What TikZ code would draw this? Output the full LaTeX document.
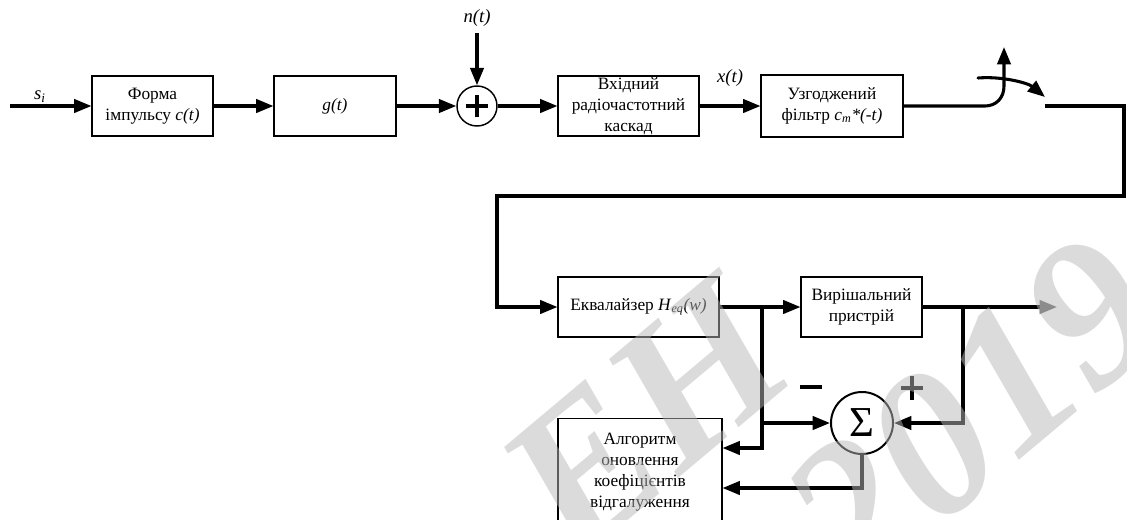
\documentclass[tikz,border=0pt]{standalone}
\usepackage{fontspec}
\setmainfont{Liberation Serif}
\usetikzlibrary{arrows.meta}
\begin{document}
\begin{tikzpicture}[x=0.75pt,y=-0.75pt,
  blk/.style={draw,line width=0.8pt,inner sep=0pt,align=center,
    font=\fontsize{13}{15.75}\selectfont},
  conn/.style={line width=2.3pt,-{Triangle[length=13pt,width=10pt]}},
  lbl/.style={font=\fontsize{14}{16}\selectfont\itshape,inner sep=0pt},
  wmark/.style={font=\fontsize{155}{155}\selectfont\bfseries\itshape,
    text=wmgray,opacity=0.5,rotate=40,inner sep=0pt}]
\definecolor{wmgray}{RGB}{184,184,184}
\useasboundingbox (0,0) rectangle (1127,519);

% forward path
\node[blk,minimum width=90.75pt,minimum height=45pt] (b1) at (152.5,106)
  {Форма\\імпульсу \textit{c(t)}};
\node[blk,minimum width=91.5pt,minimum height=45pt] (b2) at (335,106)
  {\textit{g(t)}};
\node[draw,circle,line width=1.1pt,minimum size=30pt,inner sep=0pt] (add) at (477,106) {};
\node[blk,minimum width=105.75pt,minimum height=45pt] (b3) at (628.5,106)
  {Вхідний\\радіочастотний\\каскад};
\node[blk,minimum width=106.5pt,minimum height=46.5pt] (b4) at (832,106)
  {Узгоджений\\фільтр \textit{c}\textsubscript{\textit{m}}\textit{*(-t)}};

% equaliser section
\node[blk,minimum width=120.75pt,minimum height=45pt] (eq) at (638.5,307)
  {Еквалайзер \textit{H}\textsubscript{\textit{eq}}\textit{(w)}};
\node[blk,minimum width=90.75pt,minimum height=45pt] (dec) at (861.5,307)
  {Вирішальний\\пристрій};
\node[draw,circle,line width=1.5pt,minimum size=46.5pt,inner sep=0pt,
  font=\fontsize{32}{32}\selectfont] (sum) at (862,423) {Σ};
\node[blk,minimum width=123pt,minimum height=81pt,anchor=north] (alg) at (640,418)
  {Алгоритм\\оновлення\\коефіцієнтів\\відгалуження};

% labels
\node[lbl] (lsi) at (40,97) {s\textsubscript{\textit{i}}};
\node[lbl] (lnt) at (477,18) {n(t)};
\node[lbl] (lxt) at (730,78) {x(t)};

% free ends and junctions
\coordinate (sin) at (10,106);
\coordinate (ntop) at (477,33);
\coordinate (hop) at (985,106);
\coordinate (up) at (1004,86);
\coordinate (uptip) at (1004,47);
\coordinate (swa) at (978,78);
\coordinate (swb) at (1045,97);
\coordinate (swo) at (1045,106);
\coordinate (rc) at (1124,106);
\coordinate (rd) at (1124,196);
\coordinate (ld) at (497,196);
\coordinate (j1) at (762,307);
\coordinate (j1b) at (762,448);
\coordinate (j2) at (963,307);
\coordinate (outp) at (1057,307);
\coordinate (sb) at (862,488);

% connectors
\draw[conn] (sin) -- (b1.west);
\draw[conn] (b1.east) -- (b2.west);
\draw[conn] (b2.east) -- (add.west);
\draw[conn] (ntop) -- (add.north);
\draw[conn] (add.east) -- (b3.west);
\draw[conn] (b3.east) -- (b4.west);
\draw[conn,line cap=round] (b4.east) -- (hop) .. controls (996,106) and (1004,98) .. (up) -- (uptip);
\draw[conn,line cap=round] (swa) .. controls (1002,76) and (1028,83) .. (swb);
\draw[conn] (swo) -- (rc) -- (rd) -- (ld) -- (ld |- eq.west) -- (eq.west);
\draw[conn] (eq.east) -- (dec.west);
\draw[line width=2.3pt,-{Triangle[length=13pt,width=10pt,color=black!62]}] (dec.east) -- (outp);
\draw[conn] (j1) -- (j1b) -- (j1b -| alg.east);
\draw[conn] (j1 |- sum.west) -- (sum.west);
\draw[conn] (j2) -- (j2 |- sum.east) -- (sum.east);
\draw[conn] (sum.south) -- (sb) -- (sb -| alg.east);

% signs at the summer inputs
\draw[line width=2.4pt] (800,387) -- (822,387);
\draw[line width=2.4pt] (901,388) -- (923,388) (912,376) -- (912,400);
% plus inside the adder
\draw[line width=2.4pt] ([xshift=-8.5pt]add.center) -- ([xshift=8.5pt]add.center)
  ([yshift=-8.5pt]add.center) -- ([yshift=8.5pt]add.center);

% watermark
\begin{scope}
\clip (0,0) rectangle (1127,519);
\node[wmark] (wm1) at (645,418) {ЕН};
\node[wmark] (wm2) at (972,412) {2019};
\end{scope}
\end{tikzpicture}
\end{document}
